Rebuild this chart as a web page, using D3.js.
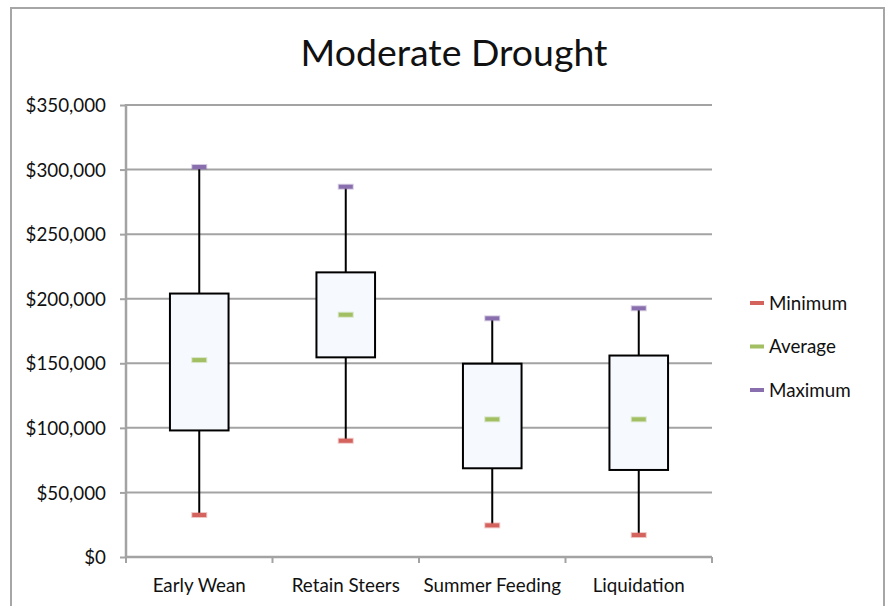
<!DOCTYPE html>
<html><head><meta charset="utf-8">
<script src="https://cdn.jsdelivr.net/npm/d3@7"></script>
<style>
body{margin:0;background:#fff;}
text{font-family:Lato,"Open Sans",sans-serif;fill:#111;}
</style></head>
<body><svg id="c" width="888" height="606"></svg>
<script>
const title = "Moderate Drought";
const categories = ["Early Wean","Retain Steers","Summer Feeding","Liquidation"];
const minimum = [32500, 90000, 24500, 17000];
const q1 = [98000, 154600, 68700, 67400];
const average = [152500, 187600, 106600, 106600];
const q3 = [204000, 220400, 149700, 156000];
const maximum = [302000, 286700, 184800, 192600];
const yTicks = [0,50000,100000,150000,200000,250000,300000,350000];
const legendNames = ["Minimum","Average","Maximum"];
const colors = {Minimum:"#d4625d", Average:"#a2c063", Maximum:"#8a6fae"};
const fs = 18.8;

const svg = d3.select("#c");
// outer frame
svg.append("rect").attr("x",11).attr("y",8).attr("width",873).attr("height",620)
  .attr("fill","none").attr("stroke","#a6a6a6").attr("stroke-width",2);

const x = d3.scaleBand().domain(categories).range([126,712]).paddingInner(0).paddingOuter(0);
const y = d3.scaleLinear().domain([0,350000]).range([557,105]);

// gridlines
svg.append("g").selectAll("line").data(yTicks.filter(d=>d>0)).join("line")
  .attr("x1",126).attr("x2",712).attr("y1",d=>y(d)).attr("y2",d=>y(d))
  .attr("stroke","#a3a3a3").attr("stroke-width",2);

// y axis
const fmt = d => "$" + d3.format(",")(d);
const ya = svg.append("g").attr("transform","translate(126,0)")
  .call(d3.axisLeft(y).tickValues(yTicks).tickFormat(fmt).tickSize(6).tickPadding(14));
ya.select(".domain").attr("stroke","#a3a3a3").attr("stroke-width",2.5).attr("d","M0,104V558");
ya.selectAll(".tick line").attr("stroke","#a3a3a3").attr("stroke-width",2);
ya.selectAll(".tick text").attr("font-size",fs).attr("font-family","Lato, sans-serif").attr("fill","#111").attr("dy","0.35em");

// x axis
const xa = svg.append("g").attr("transform","translate(0,557)");
xa.append("line").attr("x1",126).attr("x2",712).attr("y1",0).attr("y2",0)
  .attr("stroke","#a3a3a3").attr("stroke-width",2.5);
const bounds = categories.map(c=>x(c)).concat([x.range()[1]]);
xa.selectAll("line.t").data(bounds).join("line").attr("class","t")
  .attr("x1",d=>d).attr("x2",d=>d).attr("y1",0).attr("y2",6)
  .attr("stroke","#a3a3a3").attr("stroke-width",2);
xa.selectAll("text").data(categories).join("text")
  .attr("x",d=>x(d)+x.bandwidth()/2).attr("y",35)
  .attr("text-anchor","middle").attr("font-size",fs).text(d=>d);

// boxes
const bw = x.bandwidth()*0.4;
const g = svg.append("g");
categories.forEach((c,i)=>{
  const cx = x(c)+x.bandwidth()/2;
  g.append("line").attr("x1",cx).attr("x2",cx).attr("y1",y(maximum[i])).attr("y2",y(q3[i]))
    .attr("stroke","#000").attr("stroke-width",2);
  g.append("line").attr("x1",cx).attr("x2",cx).attr("y1",y(q1[i])).attr("y2",y(minimum[i]))
    .attr("stroke","#000").attr("stroke-width",2);
  g.append("rect").attr("x",cx-bw/2).attr("y",y(q3[i])).attr("width",bw)
    .attr("height",y(q1[i])-y(q3[i])).attr("fill","#f6faff").attr("stroke","#000").attr("stroke-width",2);
  [["Minimum",minimum[i]],["Average",average[i]],["Maximum",maximum[i]]].forEach(([n,v])=>{
    g.append("rect").attr("x",cx-8).attr("y",y(v)-3).attr("width",16).attr("height",6)
      .attr("fill",colors[n]).attr("opacity",0.35);
    g.append("rect").attr("x",cx-7).attr("y",y(v)-2).attr("width",14).attr("height",4)
      .attr("fill",colors[n]);
  });
});

// legend
const lg = svg.append("g");
legendNames.forEach((n,i)=>{
  const ly = 303 + i*43.5;
  lg.append("rect").attr("x",750).attr("y",ly-2).attr("width",14).attr("height",4).attr("fill",colors[n]);
  lg.append("text").attr("x",769).attr("y",ly).attr("dy","0.35em").attr("font-size",fs).text(n);
});

// title
const t = svg.append("text").attr("x",454).attr("y",66).attr("text-anchor","middle")
  .attr("font-size",35).text(title);
const w = t.node().getComputedTextLength();
if (w>0) t.attr("font-size", 35*307/w);
</script></body></html>
